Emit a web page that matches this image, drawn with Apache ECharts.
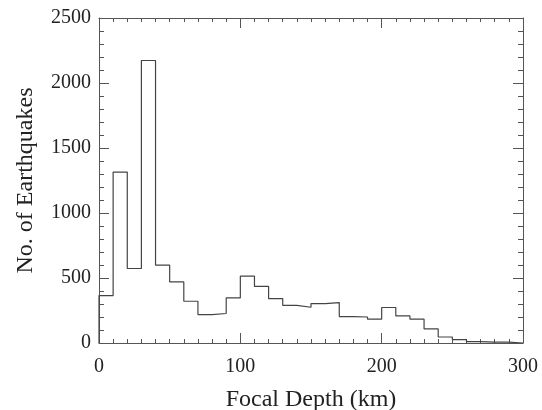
<!DOCTYPE html>
<html>
<head>
<meta charset="utf-8">
<script src="https://cdn.jsdelivr.net/npm/echarts@6/dist/echarts.min.js"></script>
<style>html,body{margin:0;padding:0;background:#fff}#c{width:542px;height:410px}</style>
</head>
<body>
<div id="c"></div>
<script>
// Bin left edges (km), bin width 10 km
var binStarts = [0,10,20,30,40,50,60,70,80,90,100,110,120,130,140,150,160,170,180,190,200,210,220,230,240,250,260,270,280,290];
var counts = [365,1315,573,2173,599,470,321,219,227,347,514,435,342,290,275,303,311,203,200,183,273,208,183,108,46,26,10,7,7,0];
var binWidth = 10;
var xTicks = [0,100,200,300];
var yTicks = [0,500,1000,1500,2000,2500];

// Build step-line points from bins
var data = [[binStarts[0], 0]];
for (var i = 0; i < binStarts.length; i++) data.push([binStarts[i], counts[i]]);
data.push([binStarts[binStarts.length - 1] + binWidth, counts[counts.length - 1]]);

var axisCol = '#555';
var txtCol = '#222';
var font = 'Liberation Serif';
function plain(v) { return String(v); }

function xAxisCfg(pos, show) {
  return {
    type: 'value', position: pos, min: xTicks[0], max: xTicks[xTicks.length-1], interval: 100,
    axisLine: {show: true, onZero: false, lineStyle: {color: axisCol, width: 1}},
    axisTick: {show: true, inside: true, length: 10, lineStyle: {color: axisCol}},
    minorTick: {show: true, splitNumber: 10, length: 4, lineStyle: {color: axisCol}},
    splitLine: {show: false},
    axisLabel: {show: show, margin: 14, color: txtCol, fontFamily: font, fontSize: 20, formatter: plain},
    name: show ? 'Focal Depth (km)' : '', nameLocation: 'middle', nameGap: 45,
    nameTextStyle: {color: txtCol, fontFamily: font, fontSize: 24}
  };
}
function yAxisCfg(pos, show) {
  return {
    type: 'value', position: pos, min: yTicks[0], max: yTicks[yTicks.length-1], interval: 500,
    axisLine: {show: true, onZero: false, lineStyle: {color: axisCol, width: 1}},
    axisTick: {show: true, inside: true, length: 10, lineStyle: {color: axisCol}},
    minorTick: {show: true, splitNumber: 5, length: 5, lineStyle: {color: axisCol}},
    splitLine: {show: false},
    axisLabel: {show: show, margin: 8, color: txtCol, fontFamily: font, fontSize: 20, formatter: plain},
    name: show ? 'No. of Earthquakes' : '', nameLocation: 'middle', nameGap: 61,
    nameTextStyle: {color: txtCol, fontFamily: font, fontSize: 24}
  };
}

var chart = echarts.init(document.getElementById('c'), null, {renderer: 'canvas'});
chart.setOption({
  animation: false,
  backgroundColor: '#fff',
  grid: {left: 99, right: 19, top: 18, bottom: 67, containLabel: false, outerBoundsMode: 'none'},
  xAxis: [xAxisCfg('bottom', true), xAxisCfg('top', false)],
  yAxis: [yAxisCfg('left', true), yAxisCfg('right', false)],
  series: [{
    type: 'line', step: 'end', data: data, symbol: 'none', clip: true,
    lineStyle: {color: '#444', width: 1.2}
  }]
});
</script>
</body>
</html>
